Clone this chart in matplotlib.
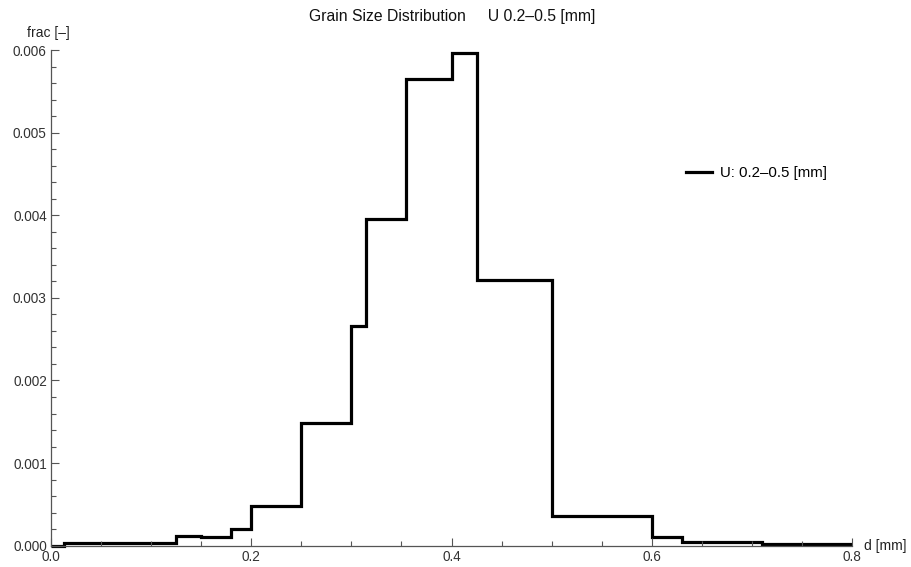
import matplotlib
matplotlib.use("Agg")
import matplotlib.pyplot as plt
from matplotlib.ticker import MultipleLocator, FormatStrFormatter

plt.rcParams['font.family'] = ['Liberation Sans', 'DejaVu Sans']

# sieve bin edges [mm] and fraction per bin
edges = [0.0, 0.0125, 0.125, 0.15, 0.18, 0.2, 0.25, 0.3, 0.315, 0.355,
         0.4, 0.425, 0.5, 0.6, 0.63, 0.71, 0.8]
frac = [0.0, 0.00003, 0.00012, 0.00010, 0.00020, 0.00048, 0.00148, 0.00266,
        0.00395, 0.00565, 0.00596, 0.00322, 0.00036, 0.00010, 0.00005, 0.000017]

series_label = "U: 0.2\u20130.5 [mm]"
title = "Grain Size Distribution     U 0.2\u20130.5 [mm]"

W, H = 911, 567
fig = plt.figure(figsize=(W / 100, H / 100), dpi=100)
ax = fig.add_axes([51 / W, 1 - 545.7 / H, 801 / W, 495.7 / H])

ax.stairs(frac, edges, color='black', lw=2.3, label=series_label,
          clip_on=False, baseline=None)

ax.set_xlim(0, 0.8)
ax.set_ylim(0, 0.006)
for s in ['top', 'right']:
    ax.spines[s].set_visible(False)
for s in ['left', 'bottom']:
    ax.spines[s].set_color('#555555')
    ax.spines[s].set_linewidth(0.9)

ax.xaxis.set_major_locator(MultipleLocator(0.2))
ax.xaxis.set_minor_locator(MultipleLocator(0.05))
ax.yaxis.set_major_locator(MultipleLocator(0.001))
ax.yaxis.set_minor_locator(MultipleLocator(0.0002))
ax.xaxis.set_major_formatter(FormatStrFormatter('%.1f'))
ax.yaxis.set_major_formatter(FormatStrFormatter('%.3f'))
ax.tick_params(which='both', direction='in', colors='#555555',
               labelcolor='#333333', labelsize=9.8, width=0.8)
ax.tick_params(which='major', length=6, pad=3)
ax.tick_params(which='minor', length=3.5)

fig.text(48 / W, 1 - 33 / H, "frac [\u2013]", ha='center', va='center',
         fontsize=10, color='#222222')
fig.text(864 / W, 1 - 546 / H, "d [mm]", ha='left', va='center',
         fontsize=10, color='#222222')
fig.text(452 / W, 1 - 17 / H, title, ha='center', va='center',
         fontsize=11.3, color='#111111')

ax.legend(loc='center left', bbox_to_anchor=((686 - 51) / 801, (545.7 - 173) / 495.7),
          frameon=False, fontsize=10.8, handlelength=1.7, handletextpad=0.6,
          borderpad=0, borderaxespad=0)

fig.savefig("out.png", dpi=100)
